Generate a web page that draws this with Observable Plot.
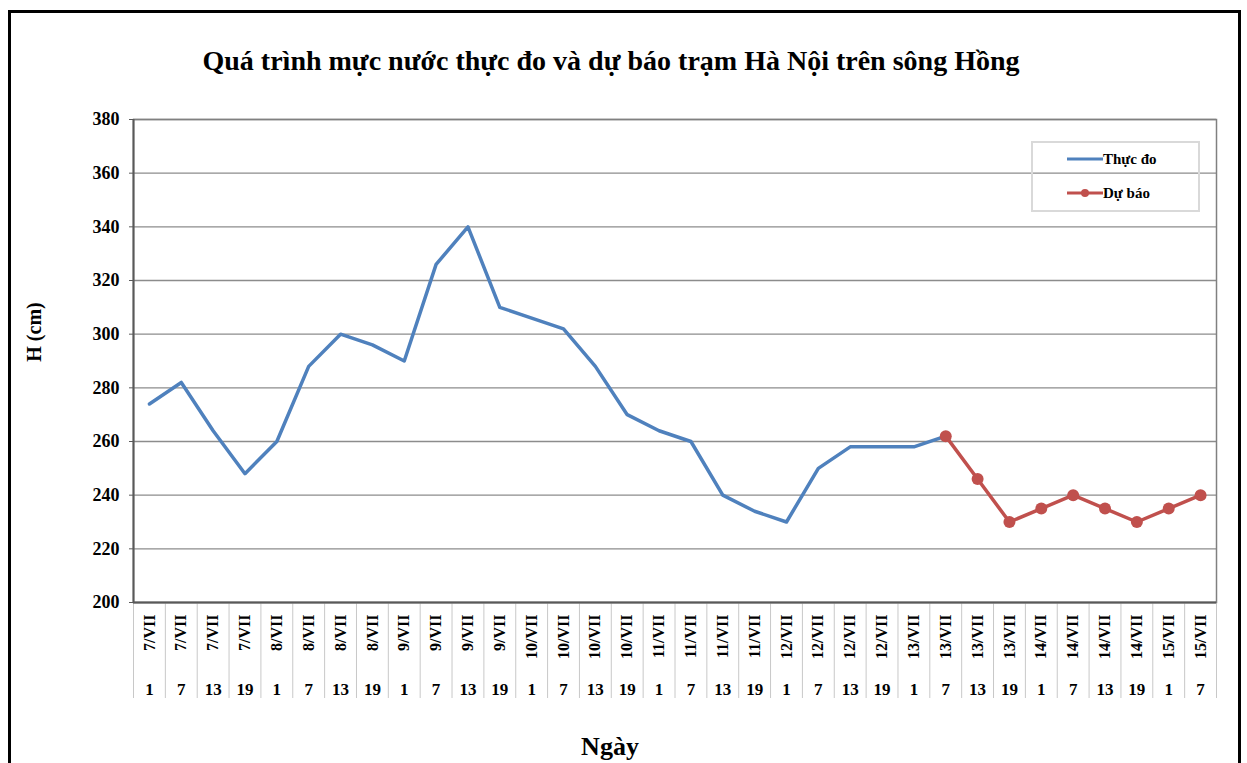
<!DOCTYPE html>
<html>
<head>
<meta charset="utf-8">
<script src="https://cdn.jsdelivr.net/npm/d3@7"></script>
<script src="https://cdn.jsdelivr.net/npm/@observablehq/plot@0.6"></script>
<style>
  body { margin: 0; background: #fff; }
  #wrap { position: relative; width: 1247px; height: 763px; overflow: hidden; font-family: "Liberation Serif", "Times New Roman", serif; font-weight: bold; color: #000; }
  #border { position: absolute; left: 8px; top: 10px; width: 1227px; height: 800px; border: 3px solid #000; }
  #title { position: absolute; left: 0; top: 44px; width: 1222px; text-align: center; font-size: 28px; line-height: 34px; }
  #chart { position: absolute; left: 0; top: 100px; }
  #ylab { position: absolute; left: 34px; top: 332px; transform: translate(-50%, -50%) rotate(-90deg); font-size: 20px; white-space: nowrap; }
  #xlab { position: absolute; left: 610px; top: 747px; transform: translate(-50%, -50%); font-size: 26px; white-space: nowrap; }
  #legend { position: absolute; left: 1031px; top: 141px; width: 165px; height: 67px; border: 2px solid #d9d9d9; font-size: 15px; }
  .lrow { position: absolute; left: 34px; display: flex; align-items: center; height: 20px; }
  .lrow svg { display: block; }
</style>
</head>
<body>
<div id="wrap">
  <div id="border"></div>
  <div id="title">Quá trình mực nước thực đo và dự báo trạm Hà Nội trên sông Hồng</div>
  <div id="chart"></div>
  <div id="ylab">H (cm)</div>
  <div id="xlab">Ngày</div>
  <div id="legend">
    <div class="lrow" style="top:6px"><svg width="36" height="10"><line x1="0" y1="5" x2="36" y2="5" stroke="#4F81BD" stroke-width="3"/></svg><span>Thực đo</span></div>
    <div class="lrow" style="top:40px"><svg width="36" height="10"><line x1="0" y1="5" x2="36" y2="5" stroke="#C0504D" stroke-width="3"/><circle cx="18" cy="5" r="4" fill="#C0504D"/></svg><span>Dự báo</span></div>
  </div>
</div>
<script>
// Category labels (day / hour)
const days = ["7/VII","7/VII","7/VII","7/VII","8/VII","8/VII","8/VII","8/VII","9/VII","9/VII","9/VII","9/VII",
  "10/VII","10/VII","10/VII","10/VII","11/VII","11/VII","11/VII","11/VII","12/VII","12/VII","12/VII","12/VII",
  "13/VII","13/VII","13/VII","13/VII","14/VII","14/VII","14/VII","14/VII","15/VII","15/VII"];
const hours = [1,7,13,19,1,7,13,19,1,7,13,19,1,7,13,19,1,7,13,19,1,7,13,19,1,7,13,19,1,7,13,19,1,7];
// Observed water level (cm)
const observed = [274,282,264,248,260,288,300,296,290,326,340,310,306,302,288,270,264,260,240,234,230,250,258,258,258,262,
  null,null,null,null,null,null,null,null];
// Forecast water level (cm)
const forecast = [null,null,null,null,null,null,null,null,null,null,null,null,null,null,null,null,null,null,null,null,null,null,null,null,null,
  262,246,230,235,240,235,230,235,240];
const yTicks = [200,220,240,260,280,300,320,340,360,380];

const n = days.length;
const idx = d3.range(n);
const obsData = idx.filter(i => observed[i] != null).map(i => ({i, v: observed[i]}));
const fcData = idx.filter(i => forecast[i] != null).map(i => ({i, v: forecast[i]}));
const bounds = d3.range(n + 1).map(k => k - 0.5);

const chart = Plot.plot({
  width: 1247,
  height: 663,
  marginLeft: 133,
  marginRight: 31,
  marginTop: 19,
  marginBottom: 161,
  style: {fontFamily: "Liberation Serif, serif", fontWeight: "bold", color: "#000", background: "transparent", overflow: "visible"},
  x: {domain: [-0.5, n - 0.5]},
  y: {domain: [200, 380]},
  marks: [
    Plot.gridY(yTicks, {stroke: "#8c8c8c", strokeOpacity: 1, strokeWidth: 1.3}),
    Plot.axisX(bounds, {tickSize: 96, stroke: "#c8c8c8", strokeOpacity: 1, tickFormat: () => "", label: null}),
    Plot.frame({stroke: "#808080", strokeWidth: 1.5}),
    Plot.ruleX([-0.5], {stroke: "#595959", strokeWidth: 2}),
    Plot.ruleY([200], {stroke: "#595959", strokeWidth: 2}),
    Plot.axisY(yTicks, {tickSize: 4, tickPadding: 10, fontSize: 18, fontWeight: "bold", label: null, stroke: "#595959"}),
    Plot.text(idx, {x: i => i, text: i => days[i], frameAnchor: "bottom", rotate: -90, textAnchor: "end", lineAnchor: "middle", dy: 12, fontSize: 16, fill: "#000"}),
    Plot.text(idx, {x: i => i, text: i => String(hours[i]), frameAnchor: "bottom", lineAnchor: "middle", dy: 87, fontSize: 17, fill: "#000"}),
    Plot.line(obsData, {x: "i", y: "v", stroke: "#4F81BD", strokeWidth: 3.5}),
    Plot.line(fcData, {x: "i", y: "v", stroke: "#C0504D", strokeWidth: 3.5}),
    Plot.dot(fcData, {x: "i", y: "v", r: 6, fill: "#C0504D", stroke: "none"})
  ]
});
document.getElementById("chart").appendChild(chart);
</script>
</body>
</html>
